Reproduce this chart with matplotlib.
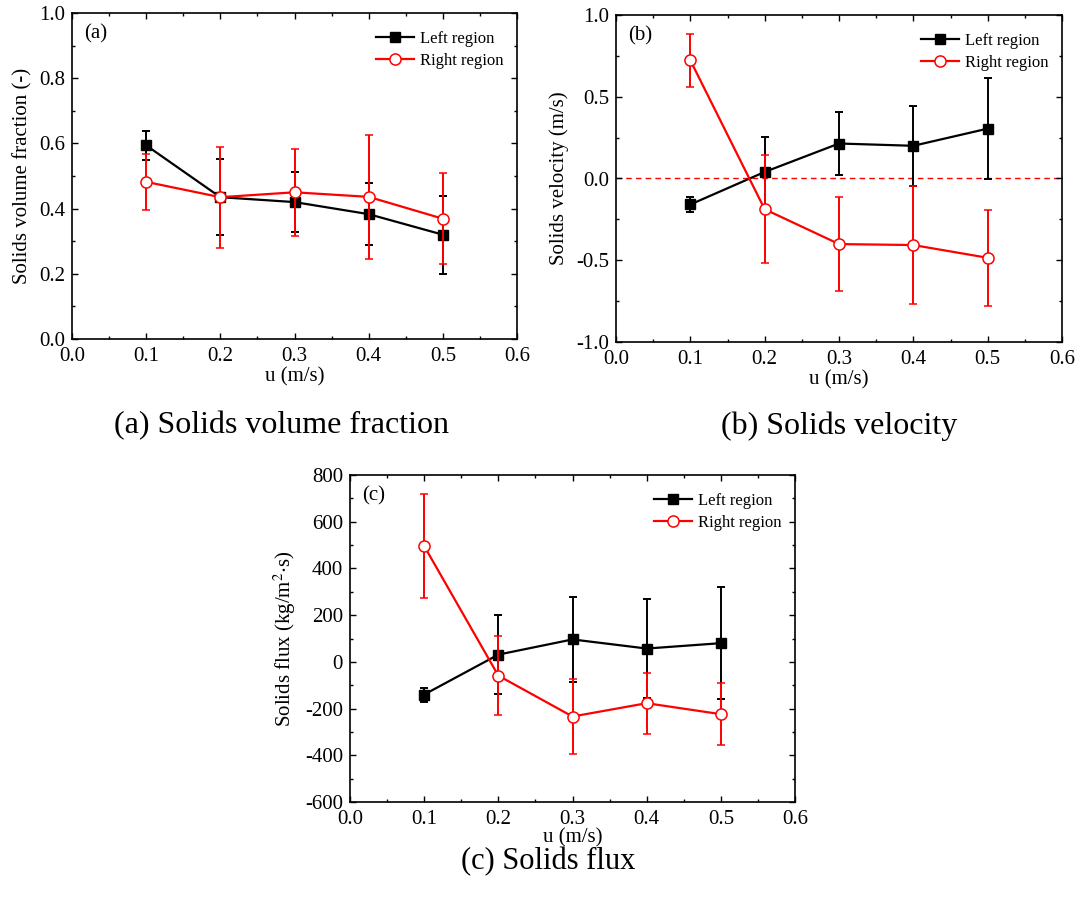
import numpy as np
import matplotlib
matplotlib.use("Agg")
import matplotlib.pyplot as plt
from matplotlib.ticker import MultipleLocator, AutoMinorLocator

plt.rcParams['font.family'] = ['Liberation Serif', 'DejaVu Serif']
plt.rcParams['mathtext.fontset'] = 'stix'

u = [0.1, 0.2, 0.3, 0.4, 0.5]

# (a) solids volume fraction
frac_left = [0.594, 0.435, 0.420, 0.383, 0.320]
frac_left_err = [0.044, 0.117, 0.093, 0.095, 0.120]
frac_right = [0.482, 0.435, 0.450, 0.436, 0.369]
frac_right_err = [0.087, 0.155, 0.133, 0.190, 0.139]

# (b) solids velocity
vel_left = [-0.159, 0.040, 0.214, 0.200, 0.305]
vel_left_err = [0.045, 0.215, 0.190, 0.246, 0.310]
vel_right = [0.723, -0.188, -0.401, -0.407, -0.485]
vel_right_err = [0.162, 0.330, 0.290, 0.360, 0.295]

# (c) solids flux
flux_left = [-140, 31, 96, 57, 80]
flux_left_err = [30, 170, 181, 213, 239]
flux_right = [496, -59, -234, -177, -224]
flux_right_err = [223, 169, 161, 131, 133]

W, H = 1079, 905
fig = plt.figure(figsize=(W / 100, H / 100), dpi=100)


def px_axes(l, t, r, b):
    return fig.add_axes([l / W, 1 - b / H, (r - l) / W, (b - t) / H])


def draw(ax, yl, yl_err, yr, yr_err, ylim, ymajor, ylabel, tag,
         zero_line=False, xpad=1):
    if zero_line:
        ax.axhline(0, color='red', lw=1, ls=(0, (4, 3)), zorder=1)
    ax.errorbar(u, yl, yerr=yl_err, color='black', lw=1.6, marker='s', ms=7.5,
                mfc='black', mec='black', ecolor='black', elinewidth=1.4,
                capsize=3, capthick=1.4, label='Left region', zorder=3)
    ax.errorbar(u, yr, yerr=yr_err, color='red', lw=1.6, marker='o', ms=8,
                mfc='white', mec='red', mew=1.1, ecolor='red', elinewidth=1.4,
                capsize=3, capthick=1.4, label='Right region', zorder=4)
    ax.set_xlim(0, 0.6)
    ax.set_ylim(*ylim)
    ax.xaxis.set_major_locator(MultipleLocator(0.1))
    ax.xaxis.set_minor_locator(AutoMinorLocator(2))
    ax.yaxis.set_major_locator(MultipleLocator(ymajor))
    ax.yaxis.set_minor_locator(AutoMinorLocator(2))
    ax.xaxis.set_major_formatter(plt.FuncFormatter(lambda v, p: f"{v:.1f}"))
    ax.tick_params(which='both', direction='in', top=True, right=True,
                   labelsize=15, width=1)
    ax.tick_params(which='major', length=4.5)
    ax.tick_params(which='minor', length=2.5)
    ax.tick_params(axis='x', which='major', pad=6)
    ax.tick_params(axis='y', which='major', pad=5)
    for s in ax.spines.values():
        s.set_linewidth(1.2)
    ax.set_xlabel('u (m/s)', fontsize=15, labelpad=xpad)
    ax.set_ylabel(ylabel, fontsize=15, labelpad=5)
    ax.text(0.027, 0.937, tag, transform=ax.transAxes, fontsize=15,
            ha='left', va='center')
    handles, labels = ax.get_legend_handles_labels()
    handles = [h[0] for h in handles]
    ax.legend(handles, labels, loc='upper left', frameon=False, fontsize=12,
              handlelength=2.3, handletextpad=0.35, labelspacing=0.35,
              borderpad=0, borderaxespad=0, bbox_to_anchor=(0.683, 0.945))


ax_a = px_axes(72, 13, 517, 339)
draw(ax_a, frac_left, frac_left_err, frac_right, frac_right_err,
     (0, 1.0), 0.2, 'Solids volume fraction (-)', '(a)')
ax_a.yaxis.set_major_formatter(plt.FuncFormatter(lambda v, p: f"{v:.1f}"))

ax_b = px_axes(616, 15, 1062, 342)
draw(ax_b, vel_left, vel_left_err, vel_right, vel_right_err,
     (-1.0, 1.0), 0.5, 'Solids velocity (m/s)', '(b)', zero_line=True)
ax_b.yaxis.set_major_formatter(plt.FuncFormatter(lambda v, p: f"{v:.1f}"))

ax_c = px_axes(350, 475, 795, 802)
draw(ax_c, flux_left, flux_left_err, flux_right, flux_right_err,
     (-600, 800), 200, 'Solids flux (kg/m$^{2}$$\\cdot$s)', '(c)', xpad=-1)
ax_c.yaxis.set_major_formatter(plt.FuncFormatter(lambda v, p: f"{v:.0f}"))

fig.text(281 / W, 1 - 426 / H, '(a) Solids volume fraction', fontsize=23,
         ha='center', va='center')
fig.text(839 / W, 1 - 426 / H, '(b) Solids velocity', fontsize=23,
         ha='center', va='center')
fig.text(548 / W, 1 - 862 / H, '(c) Solids flux', fontsize=22,
         ha='center', va='center')

fig.savefig('out.png', dpi=100)
